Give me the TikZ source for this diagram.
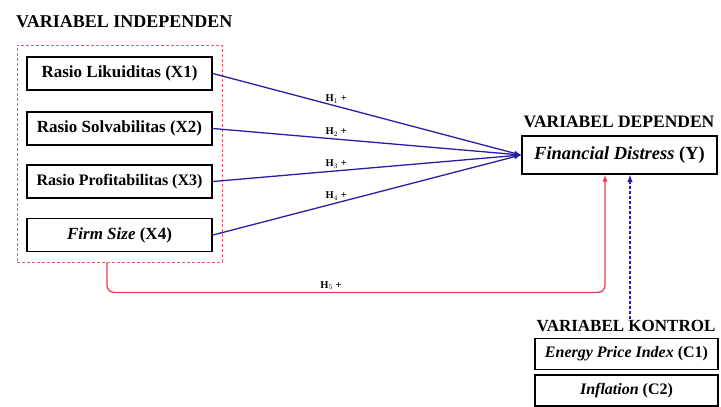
\documentclass[tikz,border=0pt]{standalone}
\usepackage{fontspec}
\setmainfont{Liberation Serif}
\definecolor{pathblue}{RGB}{40,30,165}
\definecolor{pathred}{RGB}{228,62,82}
\tikzset{
  varbox/.style={draw,line width=1.8pt,minimum width=185pt,minimum height=33pt,inner sep=1pt,font=\bfseries\fontsize{17}{19}\selectfont},
  grouptitle/.style={font=\bfseries\fontsize{18}{20}\selectfont,inner sep=1pt},
  hlabel/.style={font=\bfseries\fontsize{10.5}{11}\selectfont,inner sep=2pt}
}
\begin{document}
\begin{tikzpicture}[x=1pt,y=-1pt,>=latex]
\useasboundingbox (0,0) rectangle (721,407);
% independent side
\node[grouptitle,anchor=west] (tind) at (15,22) {VARIABEL INDEPENDEN};
\node[draw=pathred!85,densely dashed,line width=0.8pt,minimum width=205pt,minimum height=217pt] (grp) at (119.5,153.5) {};
\node[varbox] (x1) at (119.5,73.5) {Rasio Likuiditas (X1)};
\node[varbox] (x2) at (119.5,128.5) {Rasio Solvabilitas (X2)};
\node[varbox,font=\bfseries\fontsize{16}{18}\selectfont] (x3) at (119.5,181.5) {Rasio Profitabilitas (X3)};
\node[varbox] (x4) at (119.5,235) {\textit{Firm Size} (X4)};
% dependent
\node[grouptitle,font=\bfseries\fontsize{17.5}{20}\selectfont] (tdep) at (619,122) {VARIABEL DEPENDEN};
\node[varbox,minimum width=195pt,minimum height=38pt,font=\bfseries\fontsize{18.5}{20}\selectfont] (y) at (619.5,155) {\textit{Financial Distress} (Y)};
% control
\node[grouptitle,font=\bfseries\fontsize{17}{19}\selectfont] (tkon) at (626,326) {VARIABEL KONTROL};
\node[varbox,minimum width=183pt,minimum height=31pt,font=\bfseries\fontsize{16}{18}\selectfont] (c1) at (626.5,354) {\textit{Energy Price Index} (C1)};
\node[varbox,minimum width=183pt,minimum height=31pt,font=\bfseries\fontsize{16}{18}\selectfont] (c2) at (626.5,390.5) {\textit{Inflation} (C2)};
% hypotheses
\foreach \v/\h in {x1/1,x2/2,x3/3,x4/4}
  \draw[->,pathblue,line width=1.3pt] (\v.east) -- (y.west) node[hlabel,pos=0.4,above,black] {H$_\h$ +};
\draw[->,pathred,line width=1.3pt,rounded corners=7pt] ([xshift=-12.5pt]grp.south) -- ++(0,30) -- node[hlabel,pos=0.45,above,black] {H$_5$ +} ++(498,0) -- ([xshift=-14.5pt]y.south);
\draw[->,pathblue,line width=1.5pt,densely dashed] ([xshift=4pt]tkon.north) -- ([xshift=10.5pt]y.south);
\end{tikzpicture}
\end{document}
